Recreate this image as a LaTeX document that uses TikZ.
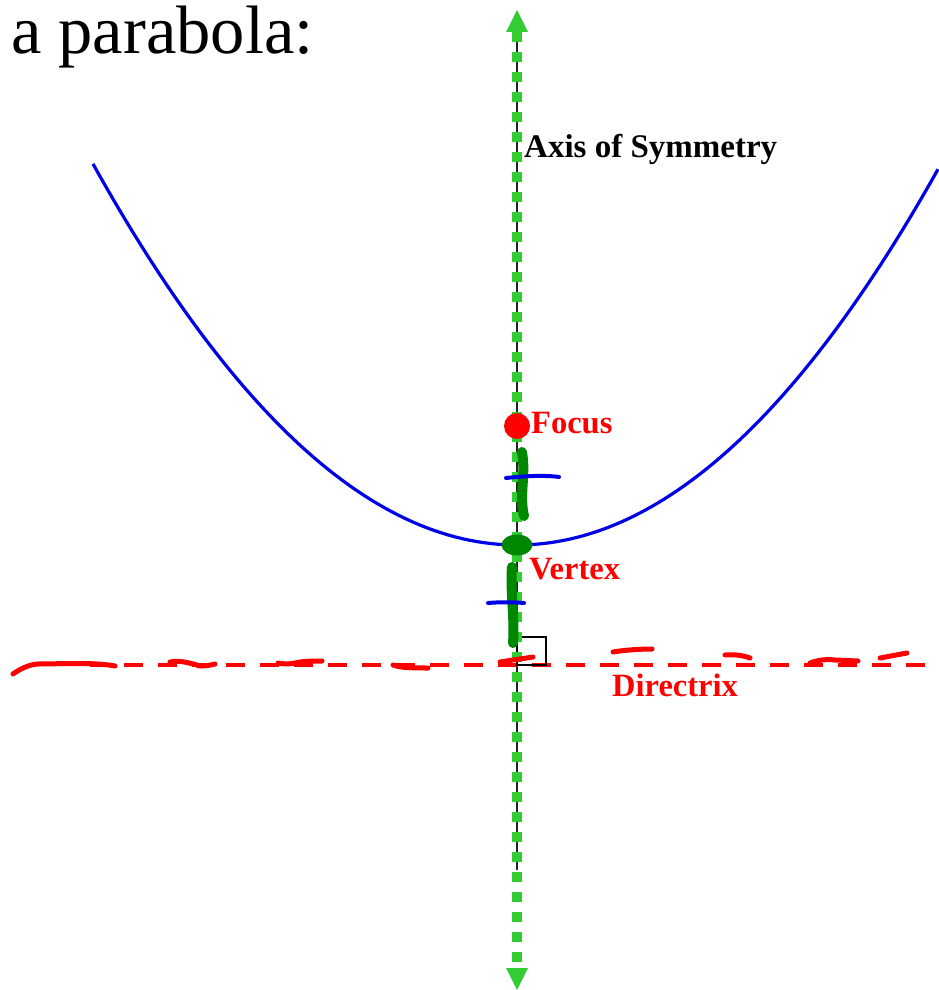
\documentclass[tikz,border=0pt]{standalone}
\usepackage{fontspec}
\setmainfont{Liberation Serif}
\usetikzlibrary{arrows.meta}
\definecolor{axgreen}{RGB}{50,205,50}
\definecolor{inkgreen}{RGB}{0,135,0}
\definecolor{inkred}{RGB}{255,0,0}
\definecolor{inkblue}{RGB}{0,0,230}
\definecolor{axblack}{RGB}{35,35,35}
\tikzset{
  lbl/.style={font=\fontsize{32.5}{32.5}\selectfont\bfseries, anchor=base west, inner sep=0pt},
  redlbl/.style={lbl, text=inkred},
  axisline/.style={draw=axgreen, line width=10pt, dash pattern=on 10pt off 10pt,
    {Triangle[width=22pt,length=22pt,line width=0pt]}-{Triangle[width=22pt,length=22pt,line width=0pt]}},
  curve/.style={draw=inkblue, line width=3.2pt, line join=round},
  dirline/.style={draw=inkred, line width=4pt, dash pattern=on 19pt off 15pt},
  handred/.style={draw=inkred, line width=5pt, line cap=round, line join=round},
  handgreen/.style={draw=inkgreen, line width=10pt, line cap=round, line join=round},
  handblue/.style={draw=inkblue, line width=4pt, line cap=round, line join=round},
}
\begin{document}
\begin{tikzpicture}[x=1pt, y=-1pt]
\useasboundingbox (0,0) rectangle (938,990);
% key points
\coordinate (axtop) at (517,30);
\coordinate (axbot) at (517,870);
\coordinate (tip1) at (517,10);
\coordinate (tip2) at (517,990);
\coordinate (F) at (517,426);
\coordinate (V) at (517,545);
\coordinate (dl) at (90,665);
\coordinate (dr) at (938,665);
% title
\node[font=\fontsize{68.5}{68.5}\selectfont, anchor=base west, inner sep=0pt] (title) at (11,53) {a parabola:};
% black axis
\draw[axblack, line width=2.5pt] (axtop) -- (axbot);
% parabola
\draw[curve] plot[domain=93:938, samples=120] (\x, {545-21.2*((\x-517)/100)^2});
% directrix
\draw[dirline] (dl) -- (dr);
% right angle mark
\draw[black, line width=1.6pt] (517,637) rectangle (546,665);
% green dotted axis of symmetry
\draw[axisline] (tip1) -- (tip2);
% labels
\node[lbl, text=black, font=\fontsize{33}{33}\selectfont\bfseries] (axl) at (524,157) {Axis of Symmetry};
\node[redlbl] (focl) at (531,433) {Focus};
\node[redlbl] (verl) at (529,579) {Vertex};
\node[redlbl] (dirl) at (612,696) {Directrix};
% focus and vertex blobs
\fill[inkred] (F) circle (13pt);
\fill[inkgreen] (V) ellipse (15.5pt and 10.5pt);
% hand-drawn green strokes
\draw[handgreen] (522,452) .. controls (526,475) and (519,495) .. (524,516);
\draw[handgreen] (512,567) .. controls (510,590) and (515,620) .. (513,643);
% hand-drawn blue ticks
\draw[handblue] (506,478) .. controls (525,476) and (545,475) .. (559,477);
\draw[handblue] (488,603) .. controls (500,602) and (512,602) .. (524,603);
% hand-drawn red strokes on directrix
\draw[handred] (13,674) .. controls (20,669) and (28,665) .. (37,664) .. controls (60,664) and (95,662) .. (115,666);
\draw[handred] (170,662) .. controls (180,660) and (190,663) .. (200,666) .. controls (206,666) and (211,665) .. (215,664);
\draw[handred] (278,663) .. controls (288,665) and (295,663) .. (300,662) .. controls (308,661) and (315,661) .. (322,661);
\draw[handred] (393,665) .. controls (398,667) and (405,668) .. (428,668);
\draw[handred] (500,662) -- (533,657);
\draw[handred] (613,652) .. controls (625,650) and (640,649) .. (652,649);
\draw[handred] (725,655) .. controls (735,654) and (745,656) .. (750,658);
\draw[handred] (810,663) .. controls (818,660) and (826,659) .. (835,660) -- (858,661);
\draw[handred] (880,658) -- (907,653);
\end{tikzpicture}
\end{document}
